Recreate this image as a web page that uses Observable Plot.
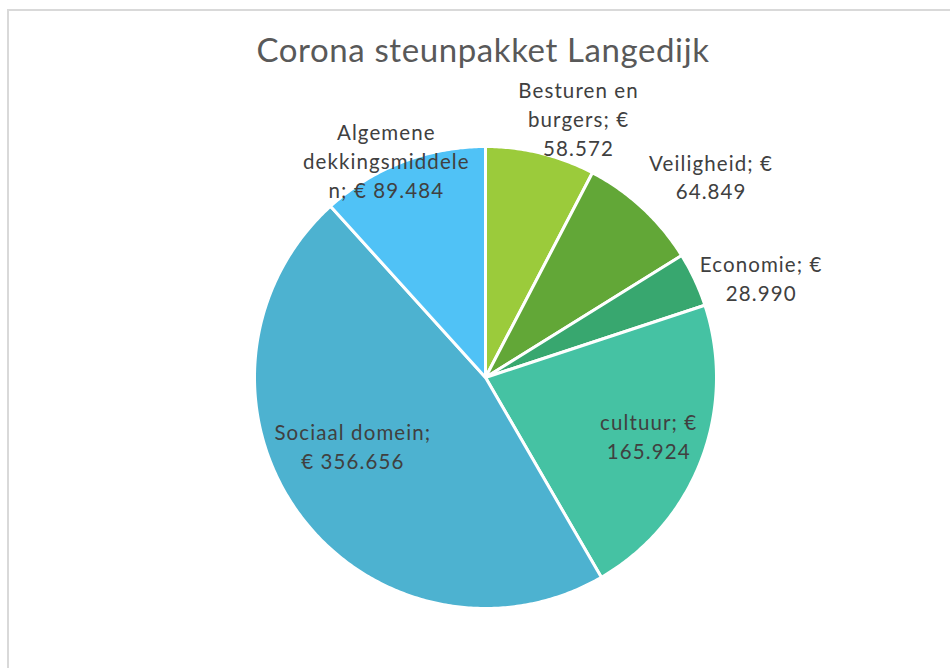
<!DOCTYPE html>
<html>
<head>
<meta charset="utf-8">
<script src="https://cdn.jsdelivr.net/npm/d3@7"></script>
<script src="https://cdn.jsdelivr.net/npm/@observablehq/plot@0.6"></script>
<style>
  html, body { margin: 0; padding: 0; background: #fff; }
  #wrap { position: relative; width: 950px; height: 668px; overflow: hidden; }
  #frame { position: absolute; left: 7px; top: 9px; width: 960px; height: 700px; border-left: 2px solid #d9d9d9; border-top: 2px solid #d9d9d9; box-sizing: border-box; }
  #title { position: absolute; left: 0; width: 966px; top: 29px; text-align: center; font-family: Lato, "Open Sans", sans-serif; font-size: 33px; letter-spacing: 0.6px; color: #595959; }
  #chart { position: absolute; left: 0; top: 0; }
  #chart svg text { letter-spacing: 1.1px; }
</style>
</head>
<body>
<div id="wrap">
  <div id="frame"></div>
  <div id="chart"></div>
  <div id="title">Corona steunpakket Langedijk</div>
</div>
<script>
// Data
const categories = ["Besturen en burgers", "Veiligheid", "Economie", "cultuur", "Sociaal domein", "Algemene dekkingsmiddelen"];
const values = [58572, 64849, 28990, 165924, 356656, 89484];
const labelLines = [
  ["Besturen en", "burgers; €", "58.572"],
  ["Veiligheid; €", "64.849"],
  ["Economie; €", "28.990"],
  ["cultuur; €", "165.924"],
  ["Sociaal domein;", "€ 356.656"],
  ["Algemene", "dekkingsmiddele", "n; € 89.484"]
];
const colors = ["#9bcb3b", "#62a737", "#38a76f", "#45c2a3", "#4db2d0", "#50c2f6"];

// Layout (label placement: angle in degrees clockwise from top, radius in pie radii)
const labelPlacement = [
  [19.7, 1.195], [48.2, 1.31], [70.0, 1.27], [109.6, 0.75], [242.9, 0.645], [335.5, 1.035]
];
const W = 950, H = 668, cx = 485, cy = 377, R = 231;

const pie = d3.pie().sort(null).value(d => d)(values);
const pts = [];
pie.forEach((a, i) => {
  pts.push({k: i, x: 0, y: 0});
  const n = Math.max(2, Math.ceil((a.endAngle - a.startAngle) / 0.01));
  for (let j = 0; j <= n; j++) {
    const t = a.startAngle + (a.endAngle - a.startAngle) * j / n;
    pts.push({k: i, x: Math.sin(t), y: Math.cos(t)});
  }
});

const labels = [];
labelLines.forEach((lines, i) => {
  const [deg, rr] = labelPlacement[i];
  const t = deg * Math.PI / 180;
  labels.push({text: lines.join("\n"), x: rr * Math.sin(t), y: rr * Math.cos(t)});
});

const chart = Plot.plot({
  width: W, height: H,
  margin: 0,
  x: {domain: [-cx / R, (W - cx) / R], axis: null},
  y: {domain: [(cy - H) / R, cy / R], axis: null},
  style: {background: "transparent"},
  marks: [
    Plot.line(pts, {x: "x", y: "y", z: "k", fill: d => colors[d.k], stroke: "#ffffff", strokeWidth: 3, strokeLinejoin: "round", curve: "linear-closed"}),
    Plot.text(labels, {x: "x", y: "y", text: "text", fill: "#404040", fontSize: 20.5, lineHeight: 1.41, fontFamily: "Lato, 'Open Sans', sans-serif", textAnchor: "middle"})
  ]
});
document.getElementById("chart").appendChild(chart);
</script>
</body>
</html>
